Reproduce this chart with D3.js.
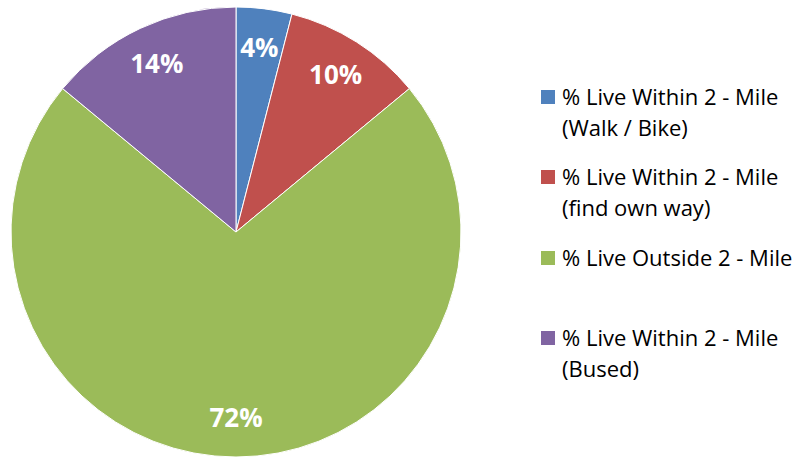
<!DOCTYPE html>
<html>
<head>
<meta charset="utf-8">
<script src="https://cdn.jsdelivr.net/npm/d3@7"></script>
<style>
  body { margin: 0; background: #fff; }
  text { font-family: "Open Sans", "Noto Sans", sans-serif; }
</style>
</head>
<body>
<div id="chart"></div>
<script>
// data
const categories = [
    ["% Live Within 2 - Mile", "(Walk / Bike)"],
    ["% Live Within 2 - Mile", "(find own way)"],
    ["% Live Outside 2 - Mile"],
    ["% Live Within 2 - Mile", "(Bused)"]
]
const values = [4, 10, 72, 14]
const colors = ["#4F81BD", "#C0504D", "#9BBB59", "#8064A2"]

const width = 812
const height = 458
const cx = 236, cy = 232, radius = 225

const svg = d3.select("#chart")
    .append("svg")
    .attr("width", width)
    .attr("height", height)

const view = svg.append("g")
    .attr("transform", "translate(" + cx + "," + cy + ")")

const pie = d3.pie().sort(null).value(d => d)
const arcs = pie(values)

const arc = d3.arc().innerRadius(0).outerRadius(radius)
const labelArc = d3.arc().innerRadius(186).outerRadius(186)

// slices
view.selectAll(".slice")
    .data(arcs)
    .enter()
    .append("path")
    .attr("class", "slice")
    .attr("d", arc)
    .attr("fill", (d, i) => colors[i])
    .attr("stroke", "#fff")
    .attr("stroke-width", 1)

// labels
view.selectAll(".label")
    .data(arcs)
    .enter()
    .append("text")
    .attr("class", "label")
    .attr("transform", d => "translate(" + labelArc.centroid(d) + ")")
    .attr("text-anchor", "middle")
    .attr("dy", "0.35em")
    .attr("fill", "#fff")
    .attr("font-weight", "bold")
    .attr("font-size", 26)
    .text(d => d.data + "%")

// legend
const legendY = [97, 177, 258, 338]

const legend = svg.selectAll(".legend")
    .data(categories)
    .enter()
    .append("g")
    .attr("class", "legend")
    .attr("transform", (d, i) => "translate(541," + legendY[i] + ")")

legend.append("rect")
    .attr("x", 0)
    .attr("y", -7)
    .attr("width", 14)
    .attr("height", 14)
    .attr("fill", (d, i) => colors[i])

legend.each(function(lines) {
    const t = d3.select(this).append("text")
        .attr("x", 21)
        .attr("y", 8)
        .attr("font-size", 22)
        .attr("fill", "#000")
    lines.forEach((line, j) => {
        t.append("tspan")
            .attr("x", 21)
            .attr("dy", j == 0 ? 0 : 31)
            .text(line)
    })
})
</script>
</body>
</html>
